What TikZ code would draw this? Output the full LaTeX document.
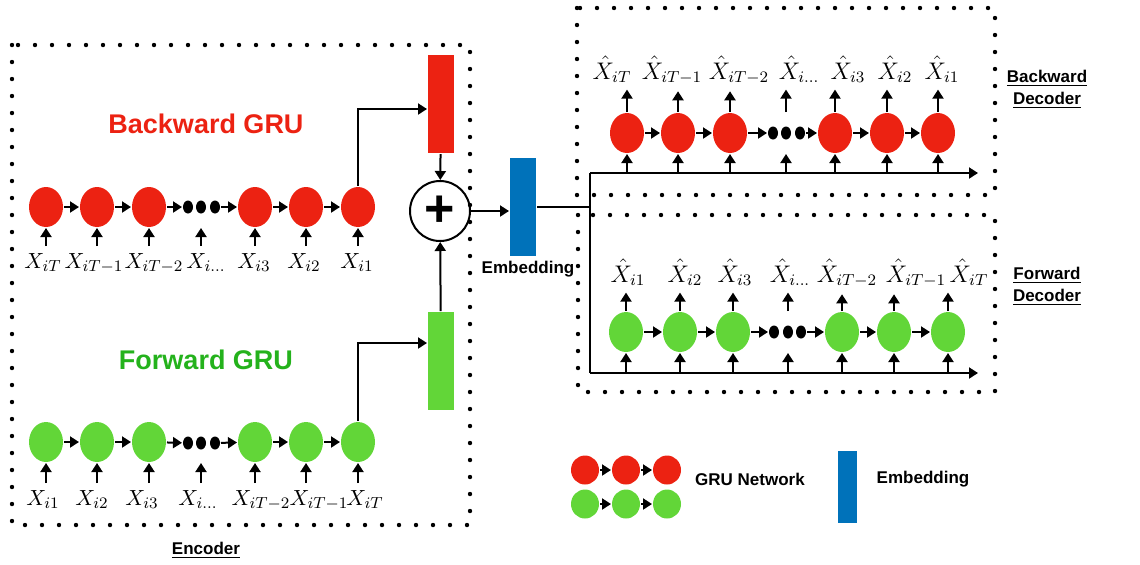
\documentclass[tikz,border=0pt]{standalone}
\usepackage{fontspec}
\usepackage{tikz}
\usetikzlibrary{arrows.meta,shapes.geometric}
\newfontfamily\hvfont{Liberation Sans}
\definecolor{grured}{RGB}{236,34,18}
\definecolor{grugreen}{RGB}{98,214,56}
\definecolor{grugreentext}{RGB}{36,178,28}
\definecolor{embblue}{RGB}{0,114,186}

\begin{document}
\begin{tikzpicture}[x=0.5pt, y=-0.5pt, line width=1pt,
    >={Triangle[length=4.5pt,width=5.5pt]},
    cell/.style={ellipse, minimum width=17pt, minimum height=20pt, inner sep=0pt},
    redcell/.style={cell, fill=grured},
    greencell/.style={cell, fill=grugreen},
    dotsnode/.style={ellipse, fill=black, minimum width=5pt, minimum height=6.5pt, inner sep=0pt},
    xlbl/.style={anchor=base, inner sep=3pt, font=\fontsize{11}{12}\selectfont},
    ylbl/.style={xlbl, font=\fontsize{12}{13}\selectfont},
    bar/.style={rectangle, minimum width=13pt, minimum height=49pt, inner sep=0pt},
    grutitle/.style={font=\hvfont\bfseries\fontsize{13.5}{16}\selectfont},
    boxtag/.style={font=\hvfont\bfseries\fontsize{8.5}{11}\selectfont, align=center},
    dotbox/.style={line width=2.2pt, line cap=round, dash pattern=on 0pt off 8.5pt}]
    \useasboundingbox (0,0) rectangle (1140,564);

    % boxes
    \draw[dotbox] (12,45) rectangle (470,525);
    \draw[dotbox] (577,8) rectangle (995,195);
    \draw[dotbox] (578,215) rectangle (995,392);
    \node[boxtag] (enctag) at (206,550) {\underline{Encoder}};
    \node[boxtag] (bdectag) at (1047,89) {\underline{Backward}\\\underline{Decoder}};
    \node[boxtag] (fdectag) at (1047,286) {\underline{Forward}\\\underline{Decoder}};

    % encoder, backward GRU
    \node[grutitle, text=grured] (btitle) at (206,124) {Backward GRU};
    \node[redcell] (b1) at (46,207) {};
    \node[redcell] (b2) at (97,207) {};
    \node[redcell] (b3) at (149,207) {};
    \node[dotsnode] (bd1) at (188,207) {};
    \node[dotsnode] (bd2) at (201,207) {};
    \node[dotsnode] (bd3) at (215,207) {};
    \node[redcell] (b5) at (255,207) {};
    \node[redcell] (b6) at (306,207) {};
    \node[redcell] (b7) at (358,207) {};
    \node[xlbl] (xb1) at (43,268) {$X_{iT}$};
    \node[xlbl] (xb2) at (94,268) {$X_{iT-1}$};
    \node[xlbl] (xb3) at (154,268) {$X_{iT-2}$};
    \node[xlbl] (xb4) at (206,268) {$X_{i\ldots}$};
    \node[xlbl] (xb5) at (254,268) {$X_{i3}$};
    \node[xlbl] (xb6) at (304,268) {$X_{i2}$};
    \node[xlbl] (xb7) at (357,268) {$X_{i1}$};
    \draw[->] (b1) -- (b2);
    \draw[->] (b2) -- (b3);
    \draw[->] (b3) -- (bd1);
    \draw[->] (bd3) -- (b5);
    \draw[->] (b5) -- (b6);
    \draw[->] (b6) -- (b7);
    \draw[->] (b1 |- xb1.north) -- (b1);
    \draw[->] (b2 |- xb2.north) -- (b2);
    \draw[->] (b3 |- xb3.north) -- (b3);
    \draw[->] (bd2 |- xb4.north) -- (bd2 |- b3.south);
    \draw[->] (b5 |- xb5.north) -- (b5);
    \draw[->] (b6 |- xb6.north) -- (b6);
    \draw[->] (b7 |- xb7.north) -- (b7);

    % encoder, forward GRU
    \node[grutitle, text=grugreentext] (ftitle) at (206,360) {Forward GRU};
    \node[greencell] (f1) at (46,442) {};
    \node[greencell] (f2) at (97,442) {};
    \node[greencell] (f3) at (149,442) {};
    \node[dotsnode] (fd1) at (188,443) {};
    \node[dotsnode] (fd2) at (201,443) {};
    \node[dotsnode] (fd3) at (215,443) {};
    \node[greencell] (f5) at (255,442) {};
    \node[greencell] (f6) at (306,442) {};
    \node[greencell] (f7) at (358,442) {};
    \node[xlbl] (xf1) at (43,505) {$X_{i1}$};
    \node[xlbl] (xf2) at (92,505) {$X_{i2}$};
    \node[xlbl] (xf3) at (142,505) {$X_{i3}$};
    \node[xlbl] (xf4) at (198,505) {$X_{i\ldots}$};
    \node[xlbl] (xf5) at (261,505) {$X_{iT-2}$};
    \node[xlbl] (xf6) at (319,505) {$X_{iT-1}$};
    \node[xlbl] (xf7) at (365,505) {$X_{iT}$};
    \draw[->] (f1) -- (f2);
    \draw[->] (f2) -- (f3);
    \draw[->] (f3) -- (fd1);
    \draw[->] (fd3) -- (f5);
    \draw[->] (f5) -- (f6);
    \draw[->] (f6) -- (f7);
    \draw[->] (f1 |- xf1.north) -- (f1);
    \draw[->] (f2 |- xf2.north) -- (f2);
    \draw[->] (f3 |- xf3.north) -- (f3);
    \draw[->] (fd2 |- xf4.north) -- (fd2 |- f3.south);
    \draw[->] (f5 |- xf5.north) -- (f5);
    \draw[->] (f6 |- xf6.north) -- (f6);
    \draw[->] (f7 |- xf7.north) -- (f7);

    % merge and embedding
    \node[bar, fill=grured] (redbar) at (441,104) {};
    \node[bar, fill=grugreen] (greenbar) at (441,361) {};
    \node[circle, draw, minimum size=30pt, inner sep=0pt,
          font=\hvfont\bfseries\fontsize{26}{26}\selectfont] (plus) at (440,211) {+};
    \node[bar, fill=embblue] (embed) at (523,207) {};
    \node[boxtag] (embtag) at (528,269) {Embedding};
    \coordinate (bturn) at (358,109);
    \coordinate (fturn) at (358,343);
    \draw[->] (b7.north) -- (bturn) -- (bturn -| redbar.west);
    \draw[->] (f7.north) -- (fturn) -- (fturn -| greenbar.west);
    \draw[->] (redbar) -- (plus);
    \draw[->] (greenbar) -- (plus);
    \draw[->] (plus.east) -- (plus.east -| embed.west);

    % split to the decoders
    \coordinate (busb) at (590,173);
    \coordinate (busf) at (590,373);
    \draw (embed.east) -- (embed.east -| busb);
    \draw (busb) -- (busf);
    \draw[->] (busb) -- (978,173);
    \draw[->] (busf) -- (978,373);

    % backward decoder
    \node[redcell] (d1) at (627,133) {};
    \node[redcell] (d2) at (678,133) {};
    \node[redcell] (d3) at (730,133) {};
    \node[dotsnode] (dd1) at (773,133) {};
    \node[dotsnode] (dd2) at (786,133) {};
    \node[dotsnode] (dd3) at (800,133) {};
    \node[redcell] (d5) at (835,133) {};
    \node[redcell] (d6) at (887,133) {};
    \node[redcell] (d7) at (938,133) {};
    \node[ylbl] (yd1) at (612,79) {$\hat{X}_{iT}$};
    \node[ylbl] (yd2) at (672,79) {$\hat{X}_{iT-1}$};
    \node[ylbl] (yd3) at (739,79) {$\hat{X}_{iT-2}$};
    \node[ylbl] (yd4) at (799,79) {$\hat{X}_{i\ldots}$};
    \node[ylbl] (yd5) at (848,79) {$\hat{X}_{i3}$};
    \node[ylbl] (yd6) at (895,79) {$\hat{X}_{i2}$};
    \node[ylbl] (yd7) at (942,79) {$\hat{X}_{i1}$};
    \draw[->] (d1) -- (d2);
    \draw[->] (d2) -- (d3);
    \draw[->] (d3) -- (dd1);
    \draw[->] (dd3) -- (d5);
    \draw[->] (d5) -- (d6);
    \draw[->] (d6) -- (d7);
    \draw[->] (d1 |- busb) -- (d1);
    \draw[->] (d2 |- busb) -- (d2);
    \draw[->] (d3 |- busb) -- (d3);
    \draw[->] (dd2 |- busb) -- (dd2 |- d3.south);
    \draw[->] (d5 |- busb) -- (d5);
    \draw[->] (d6 |- busb) -- (d6);
    \draw[->] (d7 |- busb) -- (d7);
    \draw[->] (d1.north) -- (d1 |- yd1.south);
    \draw[->] (d2.north) -- (d2 |- yd2.south);
    \draw[->] (d3.north) -- (d3 |- yd3.south);
    \draw[->] (dd2 |- d3.north) -- (dd2 |- yd4.south);
    \draw[->] (d5.north) -- (d5 |- yd5.south);
    \draw[->] (d6.north) -- (d6 |- yd6.south);
    \draw[->] (d7.north) -- (d7 |- yd7.south);

    % forward decoder
    \node[greencell] (e1) at (626,332) {};
    \node[greencell] (e2) at (680,332) {};
    \node[greencell] (e3) at (733,332) {};
    \node[dotsnode] (ed1) at (774,332) {};
    \node[dotsnode] (ed2) at (788,332) {};
    \node[dotsnode] (ed3) at (801,332) {};
    \node[greencell] (e5) at (842,332) {};
    \node[greencell] (e6) at (894,332) {};
    \node[greencell] (e7) at (948,332) {};
    \node[ylbl] (ye1) at (628,282) {$\hat{X}_{i1}$};
    \node[ylbl] (ye2) at (685,282) {$\hat{X}_{i2}$};
    \node[ylbl] (ye3) at (735,282) {$\hat{X}_{i3}$};
    \node[ylbl] (ye4) at (790,282) {$\hat{X}_{i\ldots}$};
    \node[ylbl] (ye5) at (847,282) {$\hat{X}_{iT-2}$};
    \node[ylbl] (ye6) at (916,282) {$\hat{X}_{iT-1}$};
    \node[ylbl] (ye7) at (969,282) {$\hat{X}_{iT}$};
    \draw[->] (e1) -- (e2);
    \draw[->] (e2) -- (e3);
    \draw[->] (e3) -- (ed1);
    \draw[->] (ed3) -- (e5);
    \draw[->] (e5) -- (e6);
    \draw[->] (e6) -- (e7);
    \draw[->] (e1 |- busf) -- (e1);
    \draw[->] (e2 |- busf) -- (e2);
    \draw[->] (e3 |- busf) -- (e3);
    \draw[->] (ed2 |- busf) -- (ed2 |- e3.south);
    \draw[->] (e5 |- busf) -- (e5);
    \draw[->] (e6 |- busf) -- (e6);
    \draw[->] (e7 |- busf) -- (e7);
    \draw[->] (e1.north) -- (e1 |- ye1.south);
    \draw[->] (e2.north) -- (e2 |- ye2.south);
    \draw[->] (e3.north) -- (e3 |- ye3.south);
    \draw[->] (ed2 |- e3.north) -- (ed2 |- ye4.south);
    \draw[->] (e5.north) -- (e5 |- ye5.south);
    \draw[->] (e6.north) -- (e6 |- ye6.south);
    \draw[->] (e7.north) -- (e7 |- ye7.south);

    % legend
    \node[cell, fill=grured, minimum width=14pt, minimum height=14.5pt] (lr1) at (585,470) {};
    \node[cell, fill=grured, minimum width=14pt, minimum height=14.5pt] (lr2) at (626,470) {};
    \node[cell, fill=grured, minimum width=14pt, minimum height=14.5pt] (lr3) at (667,470) {};
    \node[cell, fill=grugreen, minimum width=14pt, minimum height=14.5pt] (lg1) at (585,504) {};
    \node[cell, fill=grugreen, minimum width=14pt, minimum height=14.5pt] (lg2) at (626,504) {};
    \node[cell, fill=grugreen, minimum width=14pt, minimum height=14.5pt] (lg3) at (667,504) {};
    \draw[->] (lr1) -- (lr2);
    \draw[->] (lr2) -- (lr3);
    \draw[->] (lg1) -- (lg2);
    \draw[->] (lg2) -- (lg3);
    \node[boxtag] (grutag) at (750,479) {GRU Network};
    \node[rectangle, fill=embblue, minimum width=9.5pt, minimum height=36pt, inner sep=0pt] (lemb) at (847,487) {};
    \node[boxtag] (lembtag) at (923,479) {Embedding};
\end{tikzpicture}
\end{document}
